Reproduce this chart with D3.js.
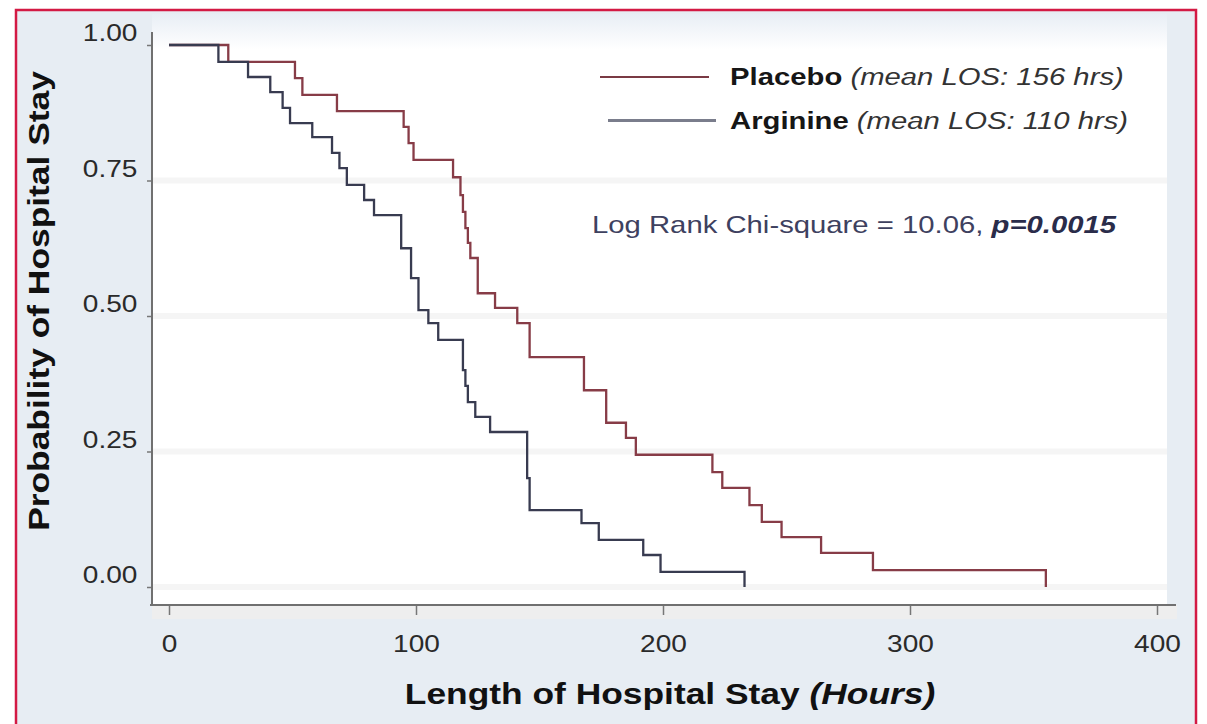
<!DOCTYPE html>
<html>
<head>
<meta charset="utf-8">
<script src="https://cdn.jsdelivr.net/npm/d3@7"></script>
<style>
	body { margin: 0; background: #fff; }
	svg { display: block; font-family: "Liberation Sans", Arial, sans-serif; }
</style>
</head>
<body>
<svg id="chart" width="1207" height="724"></svg>
<script>

// Kaplan-Meier steps (hours, probability still in hospital)
const placeboHours = [0, 24, 51, 54, 68, 95, 97, 99, 115, 118, 119, 120, 121, 122, 125, 132, 141, 146, 168, 177, 185, 189, 220, 224, 235, 240, 248, 264, 285, 355];
const placeboSurv = [1, 0.969, 0.939, 0.908, 0.878, 0.849, 0.819, 0.788, 0.756, 0.723, 0.692, 0.662, 0.635, 0.607, 0.542, 0.515, 0.487, 0.424, 0.363, 0.303, 0.275, 0.244, 0.212, 0.183, 0.151, 0.120, 0.092, 0.063, 0.031, 0];

const arginineHours = [0, 20, 32, 41, 46, 49, 58, 66, 69, 72, 79, 83, 94, 98, 101, 105, 109, 119, 120, 121, 124, 130, 145, 146, 167, 174, 192, 199, 233];
const arginineSurv = [1, 0.969, 0.941, 0.913, 0.884, 0.856, 0.830, 0.801, 0.773, 0.742, 0.714, 0.686, 0.625, 0.570, 0.511, 0.487, 0.456, 0.400, 0.371, 0.341, 0.314, 0.286, 0.201, 0.142, 0.118, 0.087, 0.059, 0.028, 0];

const xTicks = [0, 100, 200, 300, 400];
const yTicks = [0, 0.25, 0.5, 0.75, 1];

const seriesNames = ["Placebo", "Arginine"];
const seriesNotes = ["(mean LOS: 156 hrs)", "(mean LOS: 110 hrs)"];
const seriesColors = ["#873c47", "#383b50"];
const legendColors = ["#7a3a44", "#7a7d8c"];

const statText = "Log Rank Chi-square = 10.06, ";
const statP = "p=0.0015";

const svg = d3.select("#chart");
const stretch = 1.22; // the original type runs wide

const plot = { left: 152, right: 1167, top: 14, bottom: 605 };

const x = d3.scaleLinear().domain([0, 400]).range([169, 1157]);
const y = d3.scaleLinear().domain([0, 1]).range([587, 45]);

// frame + backgrounds
const defs = svg.append("defs");
const grad = defs.append("linearGradient").attr("id", "plotbg")
	.attr("x1", "0%").attr("y1", "0%").attr("x2", "0%").attr("y2", "100%");
grad.append("stop").attr("offset", "0%").attr("stop-color", "#e8eef5");
grad.append("stop").attr("offset", "6%").attr("stop-color", "#ffffff");
grad.append("stop").attr("offset", "100%").attr("stop-color", "#ffffff");

svg.append("rect")
	.attr("x", 16).attr("y", 10).attr("width", 1180).attr("height", 730)
	.attr("fill", "#e7edf3").attr("stroke", "#d31a44").attr("stroke-width", 2.5);

svg.append("rect")
	.attr("x", plot.left).attr("y", plot.top)
	.attr("width", plot.right - plot.left).attr("height", plot.bottom - plot.top)
	.attr("fill", "url(#plotbg)");

svg.append("rect")
	.attr("x", plot.left).attr("y", plot.bottom)
	.attr("width", plot.right - plot.left + 10).attr("height", 14)
	.attr("fill", "#eeeeee");

// faint horizontal grid bands
svg.append("g").selectAll("line")
	.data(yTicks.filter(d => d < 1))
	.join("line")
	.attr("x1", plot.left).attr("x2", plot.right)
	.attr("y1", d => y(d)).attr("y2", d => y(d))
	.attr("stroke", "#f5f5f5").attr("stroke-width", 6);

// axes
const yAxis = d3.axisLeft(y)
	.tickValues(yTicks)
	.tickFormat(d3.format(".2f"))
	.tickSize(5)
	.tickPadding(7);

const gy = svg.append("g").attr("transform", `translate(${plot.left},0)`).call(yAxis);
gy.select(".domain").remove();
gy.selectAll(".tick line").attr("stroke", "#777").attr("stroke-width", 1.5);
gy.selectAll(".tick text")
	.attr("font-size", 23).attr("fill", "#2a2a2a").attr("dy", "-0.18em")
	.attr("transform", `scale(${stretch},1)`);

const xAxis = d3.axisBottom(x)
	.tickValues(xTicks)
	.tickSize(10);

const gx = svg.append("g").attr("transform", `translate(0,${plot.bottom})`).call(xAxis);
gx.select(".domain").remove();
gx.selectAll(".tick line").attr("stroke", "#777").attr("stroke-width", 1.5);
gx.selectAll(".tick text")
	.attr("font-size", 23).attr("fill", "#2a2a2a").attr("y", 47).attr("dy", 0)
	.attr("transform", `scale(${stretch},1)`);

svg.append("line")
	.attr("x1", plot.left).attr("x2", plot.left)
	.attr("y1", 32).attr("y2", plot.bottom)
	.attr("stroke", "#707070").attr("stroke-width", 2);
svg.append("line")
	.attr("x1", plot.left - 2).attr("x2", plot.right + 9)
	.attr("y1", plot.bottom).attr("y2", plot.bottom)
	.attr("stroke", "#707070").attr("stroke-width", 2);

// axis titles
const xt = svg.append("g").attr("transform", `translate(670,704) scale(${stretch},1)`)
	.append("text")
	.attr("text-anchor", "middle").attr("font-size", 29).attr("font-weight", "bold").attr("fill", "#111");
xt.append("tspan").text("Length of Hospital Stay ");
xt.append("tspan").attr("font-style", "italic").text("(Hours)");

svg.append("g").attr("transform", `translate(49,301) rotate(-90) scale(${stretch},1)`)
	.append("text")
	.attr("text-anchor", "middle").attr("font-size", 29).attr("font-weight", "bold").attr("fill", "#111")
	.text("Probability of Hospital Stay");

// survival curves
const line = d3.line()
	.x(d => x(d[0]))
	.y(d => y(d[1]))
	.curve(d3.curveStepAfter);

const series = [
	d3.zip(placeboHours, placeboSurv),
	d3.zip(arginineHours, arginineSurv)
];

svg.append("g").selectAll("path")
	.data(series)
	.join("path")
	.attr("d", line)
	.attr("fill", "none")
	.attr("stroke", (d, i) => seriesColors[i])
	.attr("stroke-width", 2.3);

// legend
const legend = svg.append("g").selectAll("g")
	.data(seriesNames)
	.join("g")
	.attr("transform", (d, i) => `translate(0,${77 + i * 43.5})`);

legend.append("line")
	.attr("x1", (d, i) => 600 + i * 8).attr("x2", (d, i) => 709 + i * 7)
	.attr("stroke", (d, i) => legendColors[i])
	.attr("stroke-width", (d, i) => i ? 3 : 2.2);

const lt = legend.append("g")
	.attr("transform", `translate(730,8) scale(${stretch},1)`)
	.append("text")
	.attr("font-size", 24).attr("fill", "#161616");
lt.append("tspan").attr("font-weight", "bold").text(d => d + " ");
lt.append("tspan").attr("font-style", "italic").attr("fill", "#333").text((d, i) => seriesNotes[i]);

// log rank test
const st = svg.append("g").attr("transform", `translate(592,233) scale(${stretch},1)`)
	.append("text")
	.attr("font-size", 24).attr("fill", "#3e415f");
st.append("tspan").text(statText);
st.append("tspan").attr("font-weight", "bold").attr("font-style", "italic").attr("fill", "#2a2c4a").text(statP);

</script>
</body>
</html>
